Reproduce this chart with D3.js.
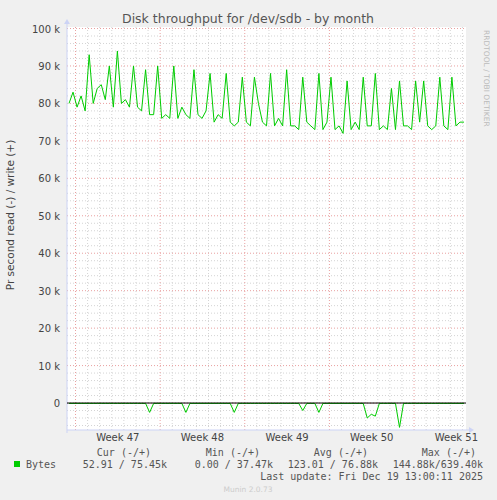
<!DOCTYPE html>
<html><head><meta charset="utf-8">
<script src="https://cdn.jsdelivr.net/npm/d3@7"></script>
<style>body{margin:0;background:#f0f0f0}svg{display:block}</style>
</head><body><div id="chart"></div>
<script>
// write (+), k bytes/s, three samples per day
const writeK = [80,83,79, 82,78,93, 80,84,85, 81,90,79, 94,80,81, 79,90,79, 78,89,77,
  77,90,76, 77,76,90, 76,79,77, 76,89,77, 76,78,88, 75,77,76, 88,75,74, 75,87,75,
  74,87,80, 75,74,88, 74,76,74, 89,74,74, 73,87,75, 74,73,88, 73,75,87, 73,74,72,
  86,73,75, 73,87,74, 74,88,73, 74,73,84, 73,86,74, 74,73,86, 75,86,74, 73,74,87,
  74,73,87, 74,75,75]
// read (-) spikes, sample index -> k bytes/s
const readSpikes = [[20,2.5],[29,2.5],[41,2.5],[58,2],[62,2.5],[74,4],[75,3],[76,3.5],[82,6.5]]
const weekLabels = ['Week 47','Week 48','Week 49','Week 50','Week 51']
const yTicks = [0,10,20,30,40,50,60,70,80,90,100]
const legendHead = ['Cur (-/+)','Min (-/+)','Avg (-/+)','Max (-/+)']
const legendVals = ['52.91 / 75.45k','0.00 / 37.47k','123.01 / 76.88k','144.88k/639.40k']

const readK = writeK.map((_, i) => { const s = readSpikes.find(d => d[0] === i); return s ? -s[1] : -0.1 })

const W = 497, H = 500, L = 67, R = 466, T = 27, B = 430
const sans = '"DejaVu Sans",sans-serif'
const mono = '"DejaVu Sans Mono",monospace'
const svg = d3.select('#chart').append('svg').attr('width', W).attr('height', H).attr('font-family', sans)
svg.append('rect').attr('width', W).attr('height', H).attr('fill', '#f0f0f0')
svg.append('rect').attr('x', L).attr('y', T).attr('width', R - L).attr('height', B - T).attr('fill', '#fff')

const y = d3.scaleLinear().domain([-7.2, 100]).range([B, 28.5])
// x in days; day 0 at plot left, week boundaries every 7 days
const x = d3.scaleLinear().domain([0, 33]).range([L, R])
const wk0 = (75.5 - L) / (x(1) - x(0))
const idxDay = i => (i + 0.5) / 3

// minor grid
for (let v = -6; v <= 100; v += 2) {
  if (v % 10 === 0) continue
  svg.append('line').attr('x1', L).attr('x2', R).attr('y1', y(v)).attr('y2', y(v))
    .attr('stroke', '#d4d4d4').attr('stroke-dasharray', '1,2')
}
for (let d = wk0 - 7; d <= 33; d += 1) {
  if (d < 0 || Math.abs(((d - wk0) % 7 + 7) % 7) < 1e-6) continue
  svg.append('line').attr('x1', x(d)).attr('x2', x(d)).attr('y1', T).attr('y2', B)
    .attr('stroke', '#d4d4d4').attr('stroke-dasharray', '1,2')
}
// major grid
yTicks.forEach(v => svg.append('line').attr('x1', L).attr('x2', R).attr('y1', y(v)).attr('y2', y(v))
  .attr('stroke', '#e9a0a0').attr('stroke-dasharray', '1,2'))
weekLabels.forEach((w, i) => {
  const d = wk0 + i * 7
  svg.append('line').attr('x1', x(d)).attr('x2', x(d)).attr('y1', T).attr('y2', B)
    .attr('stroke', '#e9a0a0').attr('stroke-dasharray', '1,2')
  svg.append('text').attr('x', x(d + 3.5)).attr('y', 441).attr('text-anchor', 'middle')
    .attr('font-size', 10).attr('fill', '#444').text(w)
})

// axes
svg.append('line').attr('x1', L).attr('x2', R + 4).attr('y1', B).attr('y2', B).attr('stroke', '#ccd3f5')
svg.append('line').attr('x1', L).attr('x2', L).attr('y1', B + 3).attr('y2', T - 6).attr('stroke', '#ccd3f5')
svg.append('path').attr('d', `M${R + 8},${B}l-5,-3v6z`).attr('fill', '#ccd3f5')
svg.append('path').attr('d', `M${L},${T - 8}l-3,5h6z`).attr('fill', '#ccd3f5')
yTicks.forEach(v => svg.append('text').attr('x', 60).attr('y', y(v) + 4).attr('text-anchor', 'end')
  .attr('font-size', 10).attr('fill', '#444').text(v === 0 ? '0' : v + ' k'))

// series
const line = d3.line().x((d, i) => x(idxDay(i))).y(d => y(d))
svg.append('path').attr('d', line(writeK)).attr('fill', 'none').attr('stroke', '#00cc00').attr('stroke-width', 1)
svg.append('path').attr('d', line(readK)).attr('fill', 'none').attr('stroke', '#00cc00').attr('stroke-width', 1)
svg.append('line').attr('x1', L).attr('x2', R).attr('y1', y(0)).attr('y2', y(0)).attr('stroke', '#000')

// texts
svg.append('text').attr('x', 248).attr('y', 23).attr('text-anchor', 'middle').attr('font-size', 12.5)
  .attr('fill', '#555').text('Disk throughput for /dev/sdb - by month')
svg.append('text').attr('transform', 'translate(14,215) rotate(-90)').attr('text-anchor', 'middle')
  .attr('font-size', 10.5).attr('fill', '#444').text('Pr second read (-) / write (+)')
svg.append('text').attr('transform', 'translate(484,30) rotate(90)').attr('font-size', 7.5)
  .attr('fill', '#bbb').text('RRDTOOL / TOBI OETIKER')

const headR = [151, 260, 368, 476]
const valR = [167, 273, 378, 483]
legendHead.forEach((h, i) => svg.append('text').attr('x', headR[i]).attr('y', 456).attr('text-anchor', 'end')
  .attr('font-family', mono).attr('font-size', 10).attr('fill', '#555').text(h))
legendVals.forEach((h, i) => svg.append('text').attr('x', valR[i]).attr('y', 468)
  .attr('text-anchor', 'end').attr('font-family', mono).attr('font-size', 10).attr('fill', '#555').text(h))
svg.append('rect').attr('x', 14).attr('y', 461).attr('width', 6).attr('height', 6).attr('fill', '#00cc00')
svg.append('text').attr('x', 26).attr('y', 468).attr('font-family', mono).attr('font-size', 10).attr('fill', '#555').text('Bytes')
svg.append('text').attr('x', 483).attr('y', 480).attr('text-anchor', 'end').attr('font-family', mono)
  .attr('font-size', 10).attr('fill', '#555').text('Last update: Fri Dec 19 13:00:11 2025')
svg.append('text').attr('x', 248).attr('y', 492).attr('text-anchor', 'middle').attr('font-size', 7.5)
  .attr('fill', '#ccc').text('Munin 2.0.73')
</script></body></html>
